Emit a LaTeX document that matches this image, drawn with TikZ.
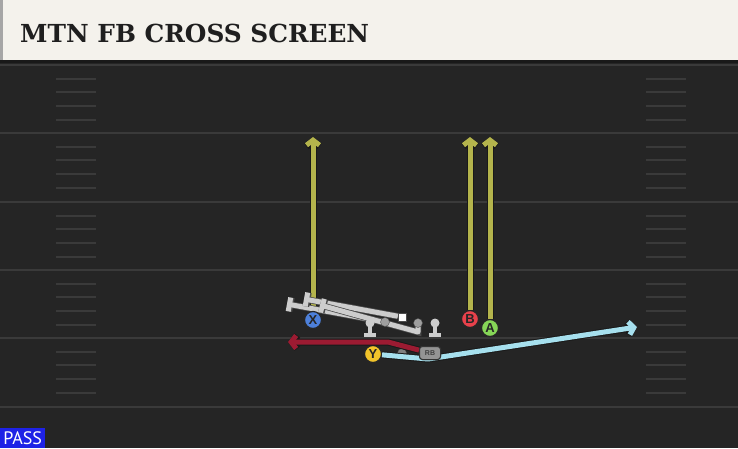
\documentclass[tikz,border=0pt]{standalone}
\usepackage{fontspec}
\setmainfont{DejaVu Serif}
\setsansfont{Liberation Sans}
\newfontfamily\titlefont{DejaVu Serif}
\newfontfamily\passfont{PT Sans}
\usetikzlibrary{arrows.meta}

\definecolor{headbg}{HTML}{F4F2EC}
\definecolor{fieldbg}{HTML}{252525}
\definecolor{yardline}{HTML}{3A3A3A}
\definecolor{routeyellow}{HTML}{B4B44C}
\definecolor{routeblue}{HTML}{A6E0EE}
\definecolor{routered}{HTML}{9C1B32}
\definecolor{linegray}{HTML}{CDCDCD}
\definecolor{xblue}{HTML}{4D80DA}
\definecolor{bred}{HTML}{E8414B}
\definecolor{agreen}{HTML}{86D657}
\definecolor{yyellow}{HTML}{F2C42A}
\definecolor{passblue}{HTML}{1E22E6}

\tikzset{
	route/.style={line width=5pt, line join=round, -{Straight Barb[length=5pt,width=13pt]},
		preaction={draw=black!90, line width=7pt}},
	blockline/.style={draw=linegray, line width=5pt, line join=round, -{Bar[width=14pt]},
		preaction={draw=black!70, line width=6.5pt}},
	player/.style={circle, draw=black!85, line width=1.2pt, minimum size=17pt, inner sep=0pt,
		font=\sffamily\bfseries\fontsize{13}{13}\selectfont, text=black!85},
	rbbox/.style={draw=black!80, line width=1pt, fill=black!42, rounded corners=3pt, minimum width=21pt,
		minimum height=13pt, inner sep=0pt, font=\sffamily\bfseries\fontsize{7}{7}\selectfont, text=black!75},
	center/.style={draw=black!70, fill=white, minimum size=8pt, inner sep=0pt},
	hashmark/.style={draw=yardline, line width=2pt},
}

\begin{document}
\begin{tikzpicture}[x=1pt, y=-1pt]
			\useasboundingbox (0,0) rectangle (738,448);
			% field and header
			\fill[fieldbg] (0,60) rectangle (738,448);
			\fill[headbg] (0,0) rectangle (738,60);
			\fill[black!35] (0,0) rectangle (3,60);
			\fill[black!90] (0,60) rectangle (738,63);
			\node [anchor=west, text=black!88, inner sep=0pt, font=\titlefont\bfseries\fontsize{24.8}{25}\selectfont] (title) at (20,33) {MTN FB CROSS SCREEN};
		
			% yard lines and hashes
			\foreach \y in {65,133,202,270,338,407}
				\draw[yardline, line width=2pt] (0,\y) -- (738,\y);
			\foreach \y in {65,133,202,270,338}
				\foreach \k in {1,...,4} {
					\draw[hashmark] (56,\y+\k*13.7) -- (96,\y+\k*13.7);
					\draw[hashmark] (646,\y+\k*13.7) -- (686,\y+\k*13.7);
				}
		
			% players
			\node [player, fill=xblue] (X) at (313,320) {X};
			\node [player, fill=bred] (B) at (470,319) {B};
			\node [player, fill=agreen] (A) at (490,328) {A};
			\node [player, fill=yyellow] (Y) at (373,354) {Y};
			\node [center] (C) at (402,317) {};
			\node [circle, draw=black!70, fill=black!50, minimum size=9pt, inner sep=0pt] (QB) at (402,353) {};
		
			\coordinate (Xend) at (313,137);
			\coordinate (Bend) at (470,137);
			\coordinate (Aend) at (490,137);
			\coordinate (Ymid) at (428,359);
			\coordinate (Yend) at (637,327);
			\coordinate (RBmid) at (388,342);
			\coordinate (RBend) at (288,342);
		
			% routes
			\draw[route, routeyellow] (X) -- (Xend);
			\draw[route, routeyellow] (B) -- (Bend);
			\draw[route, routeyellow] (A) -- (Aend);
			\draw[route, routeblue] (Y) -- (Ymid) -- (Yend);
		
			% line
			\coordinate (L1) at (385,322);
			\coordinate (L2) at (418,323);
			\draw[blockline] (L1) -- (287,304);
			\draw[blockline] (C) -- (304,299);
			\draw[blockline] (L2) -- (418,332) -- (320,305);
			\foreach \x/\n in {370/T1, 435/T2} {
				\coordinate (\n) at (\x,323);
				\draw[linegray, line width=4pt] (\n) -- ++(0,11);
				\draw[linegray, line width=4pt] (\x-6,335) -- (\x+6,335);
				\fill[linegray] (\n) circle (4.5);
			}
			\filldraw[draw=black!70, fill=black!38] (L1) circle (4.5);
			\filldraw[draw=black!70, fill=black!38] (L2) circle (4.5);
			\node [player, fill=xblue] at (X) {X};
			\node [center] at (C) {};
		
			\node [rbbox] (RB) at (430,353) {RB};
			\draw[route, routered] (RB) -- (RBmid) -- (RBend);
			\node [rbbox] at (RB) {RB};
		
			\node [anchor=south west, fill=passblue, text=white, inner sep=1.5pt, minimum width=45pt, minimum height=20pt,
				font=\passfont\fontsize{18}{18}\selectfont] (pass) at (0,448) {PASS};
\end{tikzpicture}
\end{document}
